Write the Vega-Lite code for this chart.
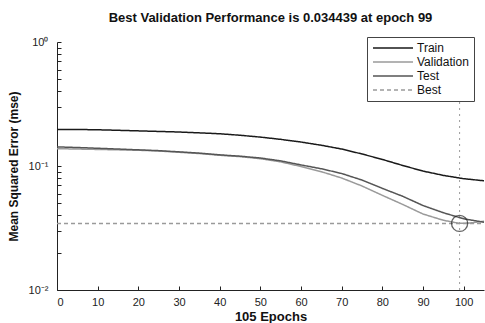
{
  "$schema": "https://vega.github.io/schema/vega-lite/v6.json",
  "autosize": {"type": "none"},
  "width": 427,
  "height": 248,
  "padding": {"left": 57, "top": 42, "right": 1, "bottom": 33},
  "background": "white",
  "config": {
    "font": "Liberation Sans",
    "view": {"stroke": null},
    "axis": {"grid": false, "domainColor": "#222", "tickColor": "#222", "labelColor": "#222", "titleColor": "#111", "labelFont": "Liberation Sans", "titleFont": "Liberation Sans"},
    "legend": {"strokeColor": "#444", "fillColor": "#ffffff", "strokeWidth": 1}
  },
  "title": {"text": "Best Validation Performance is 0.034439 at epoch 99", "fontSize": 13, "fontWeight": "bold", "color": "#111", "offset": 11, "anchor": "middle"},
  "datasets": {
    "curves": [
      {"epoch": 0, "mse": 0.197, "series": "Train"},
      {"epoch": 5, "mse": 0.197, "series": "Train"},
      {"epoch": 10, "mse": 0.196, "series": "Train"},
      {"epoch": 15, "mse": 0.194, "series": "Train"},
      {"epoch": 20, "mse": 0.192, "series": "Train"},
      {"epoch": 25, "mse": 0.19, "series": "Train"},
      {"epoch": 30, "mse": 0.188, "series": "Train"},
      {"epoch": 35, "mse": 0.185, "series": "Train"},
      {"epoch": 40, "mse": 0.182, "series": "Train"},
      {"epoch": 45, "mse": 0.177, "series": "Train"},
      {"epoch": 50, "mse": 0.171, "series": "Train"},
      {"epoch": 55, "mse": 0.164, "series": "Train"},
      {"epoch": 60, "mse": 0.156, "series": "Train"},
      {"epoch": 65, "mse": 0.147, "series": "Train"},
      {"epoch": 70, "mse": 0.137, "series": "Train"},
      {"epoch": 75, "mse": 0.125, "series": "Train"},
      {"epoch": 80, "mse": 0.113, "series": "Train"},
      {"epoch": 85, "mse": 0.101, "series": "Train"},
      {"epoch": 90, "mse": 0.091, "series": "Train"},
      {"epoch": 95, "mse": 0.084, "series": "Train"},
      {"epoch": 100, "mse": 0.079, "series": "Train"},
      {"epoch": 105, "mse": 0.076, "series": "Train"},
      {"epoch": 0, "mse": 0.138, "series": "Validation"},
      {"epoch": 5, "mse": 0.137, "series": "Validation"},
      {"epoch": 10, "mse": 0.136, "series": "Validation"},
      {"epoch": 15, "mse": 0.135, "series": "Validation"},
      {"epoch": 20, "mse": 0.134, "series": "Validation"},
      {"epoch": 25, "mse": 0.132, "series": "Validation"},
      {"epoch": 30, "mse": 0.129, "series": "Validation"},
      {"epoch": 35, "mse": 0.126, "series": "Validation"},
      {"epoch": 40, "mse": 0.122, "series": "Validation"},
      {"epoch": 45, "mse": 0.119, "series": "Validation"},
      {"epoch": 50, "mse": 0.1145, "series": "Validation"},
      {"epoch": 55, "mse": 0.108, "series": "Validation"},
      {"epoch": 60, "mse": 0.099, "series": "Validation"},
      {"epoch": 65, "mse": 0.09, "series": "Validation"},
      {"epoch": 70, "mse": 0.08, "series": "Validation"},
      {"epoch": 75, "mse": 0.069, "series": "Validation"},
      {"epoch": 80, "mse": 0.058, "series": "Validation"},
      {"epoch": 85, "mse": 0.049, "series": "Validation"},
      {"epoch": 90, "mse": 0.041, "series": "Validation"},
      {"epoch": 95, "mse": 0.0365, "series": "Validation"},
      {"epoch": 99, "mse": 0.034439, "series": "Validation"},
      {"epoch": 102, "mse": 0.0348, "series": "Validation"},
      {"epoch": 105, "mse": 0.0359, "series": "Validation"},
      {"epoch": 0, "mse": 0.1425, "series": "Test"},
      {"epoch": 5, "mse": 0.141, "series": "Test"},
      {"epoch": 10, "mse": 0.139, "series": "Test"},
      {"epoch": 15, "mse": 0.137, "series": "Test"},
      {"epoch": 20, "mse": 0.135, "series": "Test"},
      {"epoch": 25, "mse": 0.133, "series": "Test"},
      {"epoch": 30, "mse": 0.13, "series": "Test"},
      {"epoch": 35, "mse": 0.127, "series": "Test"},
      {"epoch": 40, "mse": 0.123, "series": "Test"},
      {"epoch": 45, "mse": 0.12, "series": "Test"},
      {"epoch": 50, "mse": 0.116, "series": "Test"},
      {"epoch": 55, "mse": 0.11, "series": "Test"},
      {"epoch": 60, "mse": 0.102, "series": "Test"},
      {"epoch": 65, "mse": 0.095, "series": "Test"},
      {"epoch": 70, "mse": 0.087, "series": "Test"},
      {"epoch": 75, "mse": 0.077, "series": "Test"},
      {"epoch": 80, "mse": 0.066, "series": "Test"},
      {"epoch": 85, "mse": 0.057, "series": "Test"},
      {"epoch": 90, "mse": 0.048, "series": "Test"},
      {"epoch": 95, "mse": 0.042, "series": "Test"},
      {"epoch": 100, "mse": 0.0375, "series": "Test"},
      {"epoch": 105, "mse": 0.0352, "series": "Test"},
      {"epoch": 0, "mse": 0.034439, "series": "Best"},
      {"epoch": 105, "mse": 0.034439, "series": "Best"}
    ],
    "best": [
      {"epoch": 99, "mse": 0.034439}
    ]
  },
  "layer": [
    {
      "data": {"name": "best"},
      "mark": {"type": "rule", "color": "#9a9a9a", "strokeDash": [2, 4], "strokeWidth": 1},
      "encoding": {
        "x": {"field": "epoch", "type": "quantitative", "scale": {"domain": [0, 105]}}
      }
    },
    {
      "data": {"name": "curves"},
      "mark": {"type": "line", "strokeWidth": 1.5},
      "encoding": {
        "x": {"field": "epoch", "type": "quantitative", "scale": {"domain": [0, 105], "nice": false},
          "axis": {"title": "105 Epochs", "titleFontSize": 13, "titleFontWeight": "bold", "titlePadding": 3, "values": [0,10,20,30,40,50,60,70,80,90,100], "labelFontSize": 11, "tickSize": -4, "labelPadding": 10, "domainWidth": 1}},
        "y": {"field": "mse", "type": "quantitative", "scale": {"type": "log", "domain": [0.01, 1], "nice": false},
          "axis": {"title": "Mean Squared Error (mse)", "titleFontSize": 12, "titleFontWeight": "bold", "titleX": -37, "titleY": 124, "values": [0.01,0.02,0.03,0.04,0.05,0.06,0.07,0.08,0.09,0.1,0.2,0.3,0.4,0.5,0.6,0.7,0.8,0.9,1],
            "labelExpr": "datum.value == 1 ? '10⁰' : datum.value == 0.1 ? '10⁻¹' : datum.value == 0.01 ? '10⁻²' : ''", "labelFontSize": 11, "tickSize": -4, "labelPadding": 13}},
        "color": {"field": "series", "type": "nominal", "scale": {"domain": ["Train", "Validation", "Test", "Best"], "range": ["#1a1a1a", "#9a9a9a", "#555555", "#9a9a9a"]},
          "legend": {"title": null, "orient": "none", "legendX": 310, "legendY": -5, "symbolType": "M-1,0L7,0", "symbolSize": 100, "symbolStrokeWidth": 1.5, "labelFontSize": 12, "labelColor": "#111", "padding": 5, "rowPadding": 2, "labelOffset": 33}},
        "strokeDash": {"field": "series", "type": "nominal", "scale": {"domain": ["Train", "Validation", "Test", "Best"], "range": [[1, 0], [1, 0], [1, 0], [4, 3]]}, "legend": null},
        "order": {"field": "epoch", "type": "quantitative"}
      }
    },
    {
      "data": {"name": "best"},
      "mark": {"type": "point", "shape": "circle", "filled": false, "size": 260, "color": "#222", "strokeWidth": 1.3},
      "encoding": {
        "x": {"field": "epoch", "type": "quantitative"},
        "y": {"field": "mse", "type": "quantitative"}
      }
    }
  ]
}
